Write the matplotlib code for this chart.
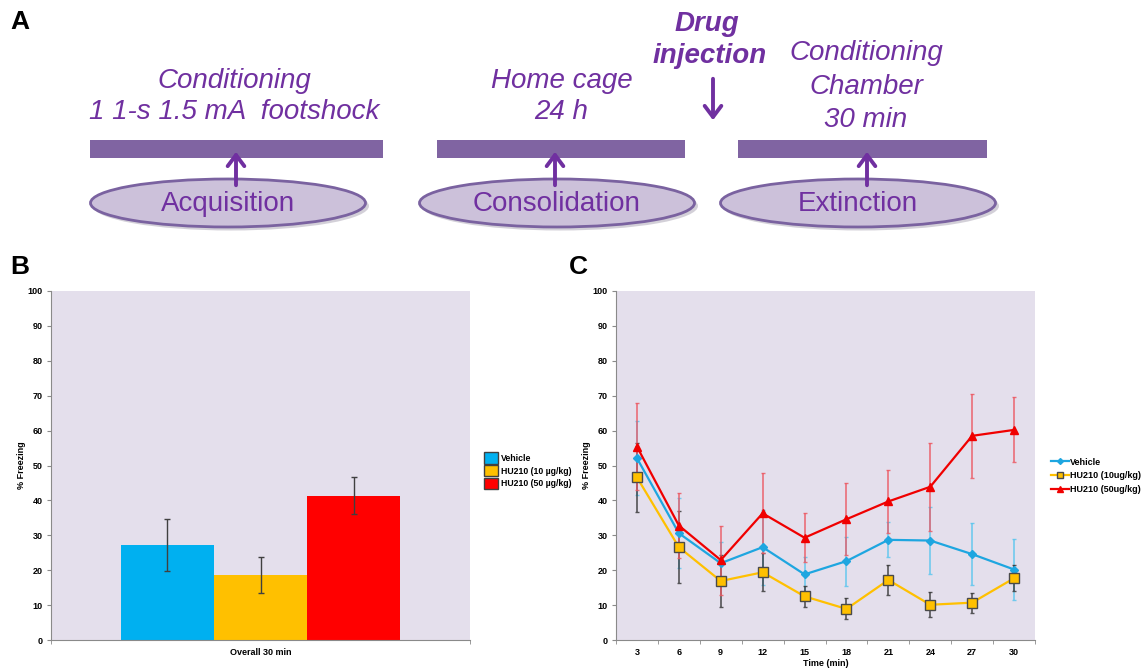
import numpy as np
import matplotlib
matplotlib.use("Agg")
import matplotlib.pyplot as plt
from matplotlib.patches import Rectangle, Ellipse, Patch
from matplotlib.lines import Line2D

plt.rcParams["font.family"] = ["Liberation Sans", "DejaVu Sans"]

# ---- panel B data (overall 30 min) ----
groups_b = ["Vehicle", "HU210 (10 µg/kg)", "HU210 (50 µg/kg)"]
mean_b = [27.3, 18.7, 41.4]
sem_b = [7.5, 5.2, 5.4]

# ---- panel C data (3-min bins) ----
time_min = [3, 6, 9, 12, 15, 18, 21, 24, 27, 30]
vehicle = [52.1, 30.6, 22.0, 26.6, 18.8, 22.6, 28.7, 28.5, 24.6, 20.2]
vehicle_err = [10.6, 10.0, 6.0, 10.7, 5.0, 7.0, 5.0, 9.5, 8.8, 8.6]
hu10 = [46.6, 26.6, 16.9, 19.4, 12.5, 8.9, 17.2, 10.1, 10.7, 17.7]
hu10_err = [9.8, 10.4, 7.5, 5.4, 3.1, 3.0, 4.3, 3.6, 2.9, 3.8]
hu50 = [55.4, 32.8, 22.9, 36.3, 29.3, 34.6, 39.7, 43.9, 58.5, 60.2]
hu50_err = [12.4, 9.3, 9.9, 11.5, 7.0, 10.3, 8.9, 12.6, 12.1, 9.3]
labels_c = ["Vehicle", "HU210 (10ug/kg)", "HU210 (50ug/kg)"]

PURPLE = "#7030a0"
BAR_PURPLE = "#8064a2"
BG = "#e4dfec"
GRID_GRAY = "#8a8a8a"
bar_colors = ["#00b0f0", "#ffc000", "#ff0000"]

fig = plt.figure(figsize=(11.41, 6.71), dpi=100, facecolor="white")

# ---- panel A: schematic, drawn in pixel coordinates ----
ax0 = fig.add_axes([0, 0, 1, 1])
ax0.set_xlim(0, 1141)
ax0.set_ylim(671, 0)
ax0.axis("off")

for x0, x1 in [(90, 383), (437, 685), (738, 987)]:
    ax0.add_patch(Rectangle((x0, 140), x1 - x0, 18, facecolor=BAR_PURPLE,
                            edgecolor="none"))

for cx, label in [(228, "Acquisition"), (557, "Consolidation"), (858, "Extinction")]:
    ax0.add_patch(Ellipse((cx + 3, 206), 276, 49, facecolor="#a9a3b3",
                          edgecolor="none", alpha=0.5))
    ax0.add_patch(Ellipse((cx, 203), 275, 48, facecolor="#ccc1da",
                          edgecolor="#7a62a0", linewidth=2))
    ax0.text(cx, 204, label, color=PURPLE, fontsize=20, ha="center", va="center")

arrow_style = "->,head_length=0.8,head_width=0.6"
for ax_x in [236, 555, 867]:
    ax0.annotate("", xy=(ax_x, 149), xytext=(ax_x, 188),
                 arrowprops=dict(arrowstyle=arrow_style, color=PURPLE, lw=2.8))
ax0.annotate("", xy=(713, 123), xytext=(713, 76),
             arrowprops=dict(arrowstyle=arrow_style, color=PURPLE, lw=2.8))

it = dict(color=PURPLE, fontsize=20, ha="center", va="center", style="italic")
ax0.text(234, 81, "Conditioning", **it)
ax0.text(234, 112, "1 1-s 1.5 mA  footshock", **it)
ax0.text(562, 81, "Home cage", **it)
ax0.text(561, 112, "24 h", **it)
ax0.text(866, 53, "Conditioning", **it)
ax0.text(866, 87, "Chamber", **it)
ax0.text(866, 120, "30 min", **it)
ax0.text(707, 24, "Drug", fontweight="bold", **it)
ax0.text(710, 56, "injection", fontweight="bold", **it)

for x, y, s in [(10, 22, "A"), (10, 267, "B"), (569, 267, "C")]:
    ax0.text(x, y, s, fontsize=19, fontweight="bold", ha="left", va="center")


def style_axes(ax):
    ax.set_facecolor(BG)
    ax.set_ylim(0, 100)
    ax.set_yticks(np.arange(0, 101, 10))
    for s in ["top", "right"]:
        ax.spines[s].set_visible(False)
    for s in ["left", "bottom"]:
        ax.spines[s].set_color(GRID_GRAY)
        ax.spines[s].set_linewidth(0.8)
    ax.tick_params(axis="y", length=3, color=GRID_GRAY, labelsize=6.5, pad=3)
    ax.tick_params(axis="x", labelsize=6.5, pad=6)
    for lab in ax.get_yticklabels():
        lab.set_fontweight("bold")
    ax.set_ylabel("% Freezing", fontsize=6.5, fontweight="bold", labelpad=1)


# ---- panel B ----
axb = fig.add_axes([51 / 1141, 31 / 671, 419 / 1141, 349 / 671])
w = 0.222
offs = (np.arange(len(groups_b)) - 1) * w
axb.bar(offs, mean_b, width=w, color=bar_colors, edgecolor="none", zorder=2)
axb.errorbar(offs, mean_b, yerr=sem_b, fmt="none", ecolor="#404040",
             elinewidth=1, capsize=2, capthick=1, zorder=3)
axb.set_xlim(-0.5, 0.5)
axb.set_xticks([0])
axb.set_xticklabels(["Overall 30 min"], fontweight="bold")
axb.set_xticks([-0.5, 0.5], minor=True)
axb.tick_params(axis="x", which="major", length=0)
axb.tick_params(axis="x", which="minor", length=3, color=GRID_GRAY)
style_axes(axb)
handles_b = [Patch(facecolor=c, edgecolor="#404040", linewidth=1) for c in bar_colors]
axb.legend(handles_b, groups_b, loc="center left",
           bbox_to_anchor=(1.025, 0.485), frameon=False,
           prop=dict(size=6.3, weight="bold"), handlelength=1.55,
           handleheight=1.65, labelspacing=0.12, handletextpad=0.4,
           borderaxespad=0)

# ---- panel C ----
axc = fig.add_axes([616 / 1141, 31 / 671, 419 / 1141, 349 / 671])
axc.errorbar(time_min, vehicle, yerr=vehicle_err, fmt="none", ecolor="#5cc6ee",
             elinewidth=1.2, capsize=1.5, alpha=0.85, zorder=2)
axc.errorbar(time_min, hu10, yerr=hu10_err, fmt="none", ecolor="#3a3a3a",
             elinewidth=1.2, capsize=1.5, alpha=0.85, zorder=2)
axc.errorbar(time_min, hu50, yerr=hu50_err, fmt="none", ecolor="#ec5a64",
             elinewidth=1.2, capsize=1.5, alpha=0.85, zorder=2)
axc.plot(time_min, vehicle, color="#1ea6e0", lw=1.6, marker="D", ms=4,
         mfc="#1ea6e0", mec="#1ea6e0", zorder=3)
axc.plot(time_min, hu10, color="#ffc000", lw=1.6, marker="s", ms=6.5,
         mfc="#ffc000", mec="#4a4a4a", mew=1, zorder=4)
axc.plot(time_min, hu50, color="#f00000", lw=1.6, marker="^", ms=5.5,
         mfc="#f00000", mec="#f00000", zorder=5)
axc.set_xlim(1.5, 31.5)
axc.set_xticks(time_min)
axc.set_xticklabels([str(t) for t in time_min], fontweight="bold")
axc.set_xticks(np.arange(1.5, 32, 3), minor=True)
axc.tick_params(axis="x", which="major", length=0)
axc.tick_params(axis="x", which="minor", length=3, color=GRID_GRAY)
axc.set_xlabel("Time (min)", fontsize=6.5, fontweight="bold", labelpad=1)
style_axes(axc)
handles_c = [
    Line2D([], [], color="#1ea6e0", lw=1.6, marker="D", ms=3, mfc="#1ea6e0", mec="#1ea6e0"),
    Line2D([], [], color="#ffc000", lw=1.6, marker="s", ms=5, mfc="#ffc000", mec="#4a4a4a"),
    Line2D([], [], color="#f00000", lw=1.6, marker="^", ms=4, mfc="#f00000", mec="#f00000"),
]
axc.legend(handles_c, labels_c, loc="center left", bbox_to_anchor=(1.03, 0.47),
           frameon=False, prop=dict(size=6.5, weight="bold"), handlelength=2.0,
           labelspacing=0.55, handletextpad=0.1, borderaxespad=0)

fig.savefig("out.png", dpi=100, facecolor="white")
